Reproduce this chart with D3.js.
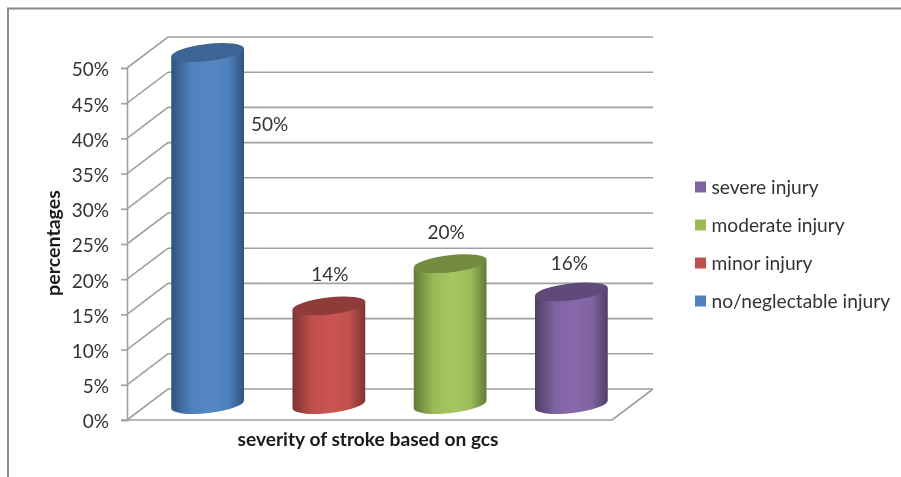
<!DOCTYPE html>
<html>
<head>
<meta charset="utf-8">
<script src="https://cdn.jsdelivr.net/npm/d3@7"></script>
<style>
  html, body { margin: 0; padding: 0; background: #fff; }
  svg { display: block; filter: blur(0.4px); }
  text { font-family: Lato, "Open Sans", sans-serif; fill: #333; }
</style>
</head>
<body>
<script>
// chart data
const categories = ["no/neglectable injury", "minor injury", "moderate injury", "severe injury"];
const percentages = [50, 14, 20, 16];
const yTicks = [0, 5, 10, 15, 20, 25, 30, 35, 40, 45, 50];
const barColors = ["#4f81bd", "#c0504d", "#9bbb59", "#8064a2"];
const topColors = ["#3c6595", "#8f3b39", "#748c41", "#5f4a7a"];
const edgeColors = ["#2f5480", "#7d3432", "#637a39", "#4f3d68"];
const lightColors = ["#5587c6", "#cd5552", "#a5c75e", "#8868ac"];

const width = 901, height = 477;
// depth offset of the 3d box
const depthX = 41, depthY = -31;

const svg = d3.select("body").append("svg")
    .attr("width", width)
    .attr("height", height);

// front plane scales
const y = d3.scaleLinear().domain([0, 50]).range([420, 68]);
const x = d3.scaleBand()
    .domain(categories)
    .range([147, 632])
    .paddingInner(0.4)
    .paddingOuter(0.2);

// outer frame
svg.append("path")
    .attr("d", "M8,477V8.5H901")
    .attr("fill", "none")
    .attr("stroke", "#8a8a8a")
    .attr("stroke-width", 2);

// gridlines on back wall and left wall
const grid = svg.append("g").attr("stroke", "#a0a0a0").attr("stroke-width", 1.6).attr("fill", "none");
grid.selectAll("path.wall")
    .data(yTicks)
    .enter()
    .append("path")
    .attr("class", "wall")
    .attr("d", d => `M127,${y(d)}L${127 + depthX},${y(d) + depthY}H${612 + depthX}`);

// floor
grid.append("path").attr("d", `M612,${y(0)}L${612 + depthX},${y(0) + depthY}`);

// y axis
const yAxis = svg.append("g")
    .attr("transform", "translate(127,0)")
    .call(d3.axisLeft(y).tickValues(yTicks).tickFormat(d => d + "%").tickSize(6).tickPadding(12));
yAxis.selectAll("line, path").attr("stroke", "#a0a0a0").attr("stroke-width", 1.6);
yAxis.selectAll("text").attr("font-size", 19).attr("dy", "0.42em").style("font-family", "Lato");

// floor front edge
svg.append("line")
    .attr("x1", 121).attr("x2", 612)
    .attr("y1", y(0)).attr("y2", y(0))
    .attr("stroke", "#a0a0a0").attr("stroke-width", 1.6);

// side shading for the cylinders
const defs = svg.append("defs");
categories.forEach((c, i) => {
    const g = defs.append("linearGradient").attr("id", "bar" + i);
    g.append("stop").attr("offset", "0%").attr("stop-color", edgeColors[i]);
    g.append("stop").attr("offset", "28%").attr("stop-color", barColors[i]);
    g.append("stop").attr("offset", "55%").attr("stop-color", lightColors[i]);
    g.append("stop").attr("offset", "78%").attr("stop-color", barColors[i]);
    g.append("stop").attr("offset", "100%").attr("stop-color", edgeColors[i]);
});

// cylinders sit half way into the depth of the box
const tilt = -0.115;
const ry = 8.5;
const bars = svg.selectAll("g.bar")
    .data(categories)
    .enter()
    .append("g")
    .attr("class", "bar")
    .attr("transform", c => `translate(${x(c) + x.bandwidth() / 2},0)`);

const rx = x.bandwidth() / 2;
const cy = v => y(v) + depthY / 2;

bars.append("path")
    .attr("fill", (c, i) => `url(#bar${i})`)
    .attr("d", (c, i) => {
        const top = cy(percentages[i]), base = cy(0);
        const dy = rx * tilt;
        return `M${-rx},${top - dy}L${rx},${top + dy}L${rx},${base + dy}` +
            `A${rx},${ry} ${Math.atan(tilt) * 180 / Math.PI} 0 1 ${-rx},${base - dy}Z`;
    });

bars.append("ellipse")
    .attr("rx", rx + 0.3)
    .attr("ry", ry)
    .attr("fill", (c, i) => topColors[i])
    .attr("transform", (c, i) => `translate(0,${cy(percentages[i])}) rotate(${Math.atan(tilt) * 180 / Math.PI})`);

// value labels, hand placed in the original so each has its own nudge
const labelDx = [62, 1, -4, -2];
const labelDy = [78, -25, -25, -22];
svg.selectAll("text.value")
    .data(percentages)
    .enter()
    .append("text")
    .attr("class", "value")
    .attr("text-anchor", "middle")
    .attr("font-size", 19)
    .attr("x", (v, i) => x(categories[i]) + x.bandwidth() / 2 + labelDx[i])
    .attr("y", (v, i) => cy(v) + labelDy[i])
    .text(v => v + "%");

// axis titles
svg.append("text")
    .attr("x", 368).attr("y", 446)
    .attr("text-anchor", "middle")
    .attr("font-size", 19.2)
    .attr("font-weight", 700)
    .style("fill", "#1a1a1a")
    .text("severity of stroke based on gcs");

svg.append("text")
    .attr("transform", "translate(60,243) rotate(-90)")
    .attr("text-anchor", "middle")
    .attr("font-size", 19.6)
    .attr("font-weight", 700)
    .style("fill", "#1a1a1a")
    .text("percentages");

// legend, listed in reverse like the original
const legendY = d3.scalePoint()
    .domain(categories.slice().reverse())
    .range([187, 301]);

const legend = svg.selectAll("g.legend")
    .data(categories)
    .enter()
    .append("g")
    .attr("class", "legend")
    .attr("transform", c => `translate(695,${legendY(c)})`);

legend.append("rect")
    .attr("y", -5.5)
    .attr("width", 11)
    .attr("height", 11)
    .attr("fill", (c, i) => barColors[i]);

legend.append("text")
    .attr("x", 16.5)
    .attr("y", 6.5)
    .attr("font-size", 19.2)
    .text(c => c);
</script>
</body>
</html>
